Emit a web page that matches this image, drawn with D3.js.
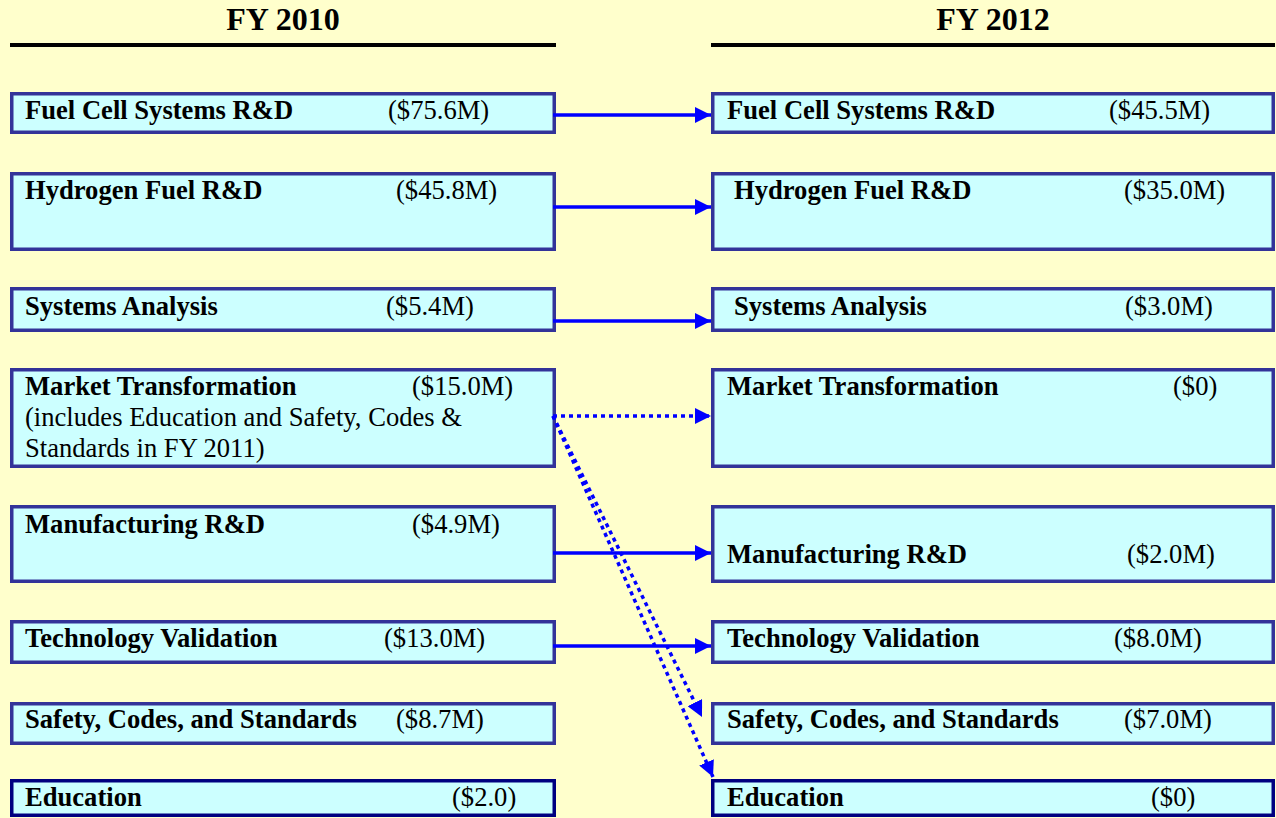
<!DOCTYPE html>
<html>
<head>
<meta charset="utf-8">
<script src="https://cdn.jsdelivr.net/npm/d3@7"></script>
<style>
  html, body { margin: 0; padding: 0; background: #ffffcc; }
  svg { display: block; }
  text { font-family: "Liberation Serif", "Times New Roman", serif; fill: #000; }
</style>
</head>
<body>
<svg id="chart" width="1276" height="818"></svg>
<script>
// data
var years = ["FY 2010", "FY 2012"];
var programs = ["Fuel Cell Systems R&D", "Hydrogen Fuel R&D", "Systems Analysis", "Market Transformation",
                "Manufacturing R&D", "Technology Validation", "Safety, Codes, and Standards", "Education"];
var funding2010 = ["($75.6M)", "($45.8M)", "($5.4M)", "($15.0M)", "($4.9M)", "($13.0M)", "($8.7M)", "($2.0)"];
var funding2012 = ["($45.5M)", "($35.0M)", "($3.0M)", "($0)", "($2.0M)", "($8.0M)", "($7.0M)", "($0)"];
var marketNote = ["(includes Education and Safety, Codes &", "Standards in FY 2011)"];
// from index (FY 2010) -> to index (FY 2012)
var flowFrom = [0, 1, 2, 3, 3, 3, 4, 5];
var flowTo   = [0, 1, 2, 3, 6, 7, 4, 5];
var flowDotted = [false, false, false, true, true, true, false, false];

// layout (positions only)
var W = 1276, H = 818;
var fontSize = "26.6px";
var colLeft = [10, 711], colRight = [556, 1275];
var boxTop = [92, 172, 287, 368, 505, 620, 702, 779];
var boxBottom = [134, 251, 332, 468, 583, 664, 745, 817];
var labelDx = [[15, 15, 15, 15, 15, 15, 15, 15], [16, 23, 23, 16, 16, 16, 16, 16]];
var amountX = [[388, 396, 386, 412, 412, 384, 396, 452], [1109, 1124, 1125, 1173, 1127, 1114, 1124, 1151]];
var baseline = [[119, 199, 315, 395, 533, 647, 728, 806], [119, 199, 315, 395, 563, 647, 728, 806]];
var flowY0 = [115, 207, 321, 416, 416, 416, 553, 646];
var flowX1 = [711, 711, 711, 711, 702, 713, 711, 711];
var flowY1 = [115, 207, 321, 416, 717, 777, 553, 646];

var svg = d3.select("#chart");
svg.append("rect").attr("width", W).attr("height", H).attr("fill", "#ffffcc");

// headers
years.forEach(function(y, c) {
  svg.append("text")
    .attr("x", (colLeft[c] + colRight[c]) / 2)
    .attr("y", 30)
    .attr("text-anchor", "middle")
    .style("font-size", "32px")
    .style("font-weight", "bold")
    .text(y);
  svg.append("line")
    .attr("x1", colLeft[c]).attr("x2", colRight[c])
    .attr("y1", 45).attr("y2", 45)
    .attr("stroke", "#000").attr("stroke-width", 4);
});

// boxes
var amounts = [funding2010, funding2012];
[0, 1].forEach(function(c) {
  var g = svg.append("g").attr("class", "col" + c);
  programs.forEach(function(name, i) {
    g.append("rect")
      .attr("x", colLeft[c] + 1.75)
      .attr("y", boxTop[i] + 1.75)
      .attr("width", colRight[c] - colLeft[c] - 3.5)
      .attr("height", boxBottom[i] - boxTop[i] - 3.5)
      .attr("fill", "#ccffff")
      .attr("stroke", i === programs.length - 1 ? "#000080" : "#333399")
      .attr("stroke-width", 3.5);
    g.append("text")
      .attr("x", colLeft[c] + labelDx[c][i])
      .attr("y", baseline[c][i])
      .style("font-size", fontSize)
      .style("font-weight", "bold")
      .text(name);
    g.append("text")
      .attr("x", amountX[c][i])
      .attr("y", baseline[c][i])
      .style("font-size", fontSize)
      .text(amounts[c][i]);
  });
});

// note under market transformation (FY 2010)
marketNote.forEach(function(line, k) {
  svg.append("text")
    .attr("x", colLeft[0] + labelDx[0][3])
    .attr("y", baseline[0][3] + 31 * (k + 1))
    .style("font-size", fontSize)
    .text(line);
});

// arrow head marker
svg.append("defs").append("marker")
  .attr("id", "head")
  .attr("markerUnits", "userSpaceOnUse")
  .attr("viewBox", "0 0 16 16")
  .attr("refX", 16).attr("refY", 8)
  .attr("markerWidth", 16).attr("markerHeight", 16)
  .attr("orient", "auto")
  .append("path")
  .attr("d", "M0,0L16,8L0,16Z")
  .attr("fill", "#0000ff");

flowFrom.forEach(function(f, k) {
  svg.append("line")
    .attr("x1", colRight[0] - 3)
    .attr("y1", flowY0[k])
    .attr("x2", flowX1[k])
    .attr("y2", flowY1[k])
    .attr("stroke", "#0000ff")
    .attr("stroke-width", 3.5)
    .attr("stroke-dasharray", flowDotted[k] ? "4,4" : null)
    .attr("marker-end", "url(#head)");
});
</script>
</body>
</html>
